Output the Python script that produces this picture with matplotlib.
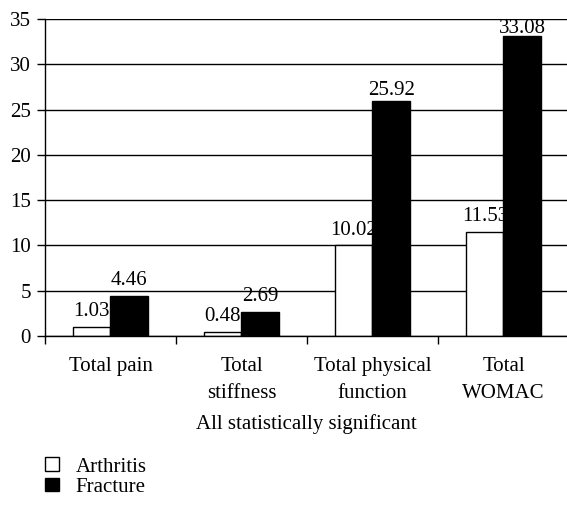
import numpy as np
import matplotlib.pyplot as plt
from matplotlib.patches import Patch

plt.rcParams['font.family'] = ['Liberation Serif', 'DejaVu Serif']

categories = ['Total pain', 'Total\nstiffness', 'Total physical\nfunction', 'Total\nWOMAC']
arthritis = [1.03, 0.48, 10.02, 11.53]
fracture = [4.46, 2.69, 25.92, 33.08]
yticks = [0, 5, 10, 15, 20, 25, 30, 35]

# label gap above each bar (points); the tall ones sit tighter under the gridlines
arthritis_pad = [4, 4, 4, 4]
fracture_pad = [4, 4, 1, -1]

fs = 15

fig = plt.figure(figsize=(5.67, 5.16), dpi=100)
ax = fig.add_axes([45 / 567, (516 - 336) / 516, 522 / 567, 317 / 516])

x = np.arange(len(categories))
w = 0.285
ax.set_axisbelow(True)
ax.yaxis.grid(True, color='black', linewidth=1)
b1 = ax.bar(x - w / 2, arthritis, w, color='white', edgecolor='black', linewidth=1)
b2 = ax.bar(x + w / 2, fracture, w, color='black', edgecolor='black', linewidth=1)

for bars, vals, pads in ((b1, arthritis, arthritis_pad), (b2, fracture, fracture_pad)):
    for bar, v, p in zip(bars, vals, pads):
        ax.annotate(f'{v:.2f}', (bar.get_x() + bar.get_width() / 2, v),
                    xytext=(0, p), textcoords='offset points',
                    ha='center', va='bottom', fontsize=fs)

ax.set_xlim(-0.5, 3.485)
ax.set_ylim(0, 35)
ax.set_yticks(yticks)
ax.tick_params(axis='y', labelsize=fs, length=6, width=1, direction='out', pad=4)
ax.set_xticks(x)
ax.set_xticklabels(categories, fontsize=fs, linespacing=1.6)
ax.tick_params(axis='x', which='major', length=0, pad=15)
ax.set_xticks([-0.5, 0.5, 1.5, 2.5], minor=True)
ax.tick_params(axis='x', which='minor', length=6, width=1, direction='out')
ax.set_xlabel('All statistically significant', fontsize=fs, labelpad=8)

for side in ('top', 'right'):
    ax.spines[side].set_visible(False)
for side in ('left', 'bottom'):
    ax.spines[side].set_linewidth(1)

handles = [Patch(facecolor='white', edgecolor='black', label='Arthritis'),
           Patch(facecolor='black', edgecolor='black', label='Fracture')]
fig.legend(handles=handles, loc='upper left', bbox_to_anchor=(0.065, 0.13),
           frameon=False, fontsize=fs, handlelength=0.65, handleheight=0.65,
           handletextpad=0.8, labelspacing=0.05, borderaxespad=0)

fig.savefig('out.png', dpi=100)
